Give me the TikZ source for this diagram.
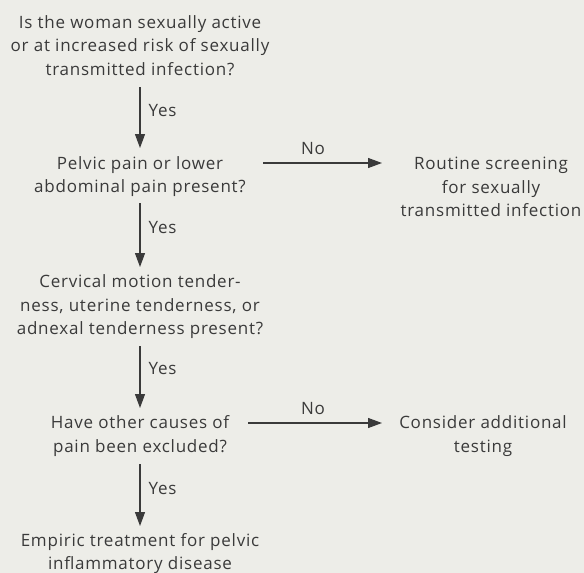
\documentclass[tikz,border=0pt]{standalone}
\usepackage{fontspec}
\setmainfont{Open Sans}[LetterSpace=4.5]
\usetikzlibrary{arrows.meta}
\definecolor{bgcol}{HTML}{EDEDE8}
\definecolor{txtcol}{HTML}{3A3A3A}
\begin{document}
\begin{tikzpicture}[x=1pt,y=1pt,
  every node/.style={text=txtcol, font=\fontsize{17}{23.5}\selectfont, inner sep=0pt},
  box/.style={align=center},
  arr/.style={draw=txtcol, line width=1.2pt, -{Triangle[length=14pt,width=10pt]}},
  lbl/.style={inner sep=0pt}]
\fill[bgcol] (0,0) rectangle (584,-573);
\useasboundingbox (0,0) rectangle (584,-573);

\node[box] (a) at (140,-47) {\strut Is the woman sexually active\\ \strut or at increased risk of sexually\\ \strut transmitted infection?};
\node[box] (b) at (140,-176.5) {\strut Pelvic pain or lower\\ \strut abdominal pain present?};
\node[box] (r1) at (491,-188.5) {\strut Routine screening\\ \strut for sexually\\ \strut transmitted infection};
\node[box] (c) at (140,-306.5) {\strut Cervical motion tender-\\ \strut ness, uterine tenderness, or\\ \strut adnexal tenderness present?};
\node[box] (d) at (140,-436) {\strut Have other causes of\\ \strut pain been excluded?};
\node[box] (r2) at (483,-436) {\strut Consider additional\\ \strut testing};
\node[box] (e) at (140,-553.5) {\strut Empiric treatment for pelvic\\ \strut inflammatory disease};

\draw[arr] ([yshift=-40pt]a.center) -- node[lbl, pos=0.38, right=8pt] {Yes} ([yshift=28.5pt]b.center);
\draw[arr] ([yshift=-26.5pt]b.center) -- node[lbl, pos=0.39, right=8pt] {Yes} ([yshift=39.5pt]c.center);
\draw[arr] ([yshift=-39.5pt]c.center) -- node[lbl, pos=0.37, right=8pt] {Yes} ([yshift=28pt]d.center);
\draw[arr] ([yshift=-28pt]d.center) -- node[lbl, pos=0.39, right=8pt] {Yes} ([yshift=27.5pt]e.center);
\draw[arr] ([shift={(123pt,13.5pt)}]b.center) -- node[lbl, pos=0.42, above=8pt] {No} ([shift={(-109pt,25.5pt)}]r1.center);
\draw[arr] ([shift={(108pt,13pt)}]d.center) -- node[lbl, pos=0.485, above=8pt] {No} ([shift={(-101pt,13pt)}]r2.center);
\end{tikzpicture}
\end{document}
